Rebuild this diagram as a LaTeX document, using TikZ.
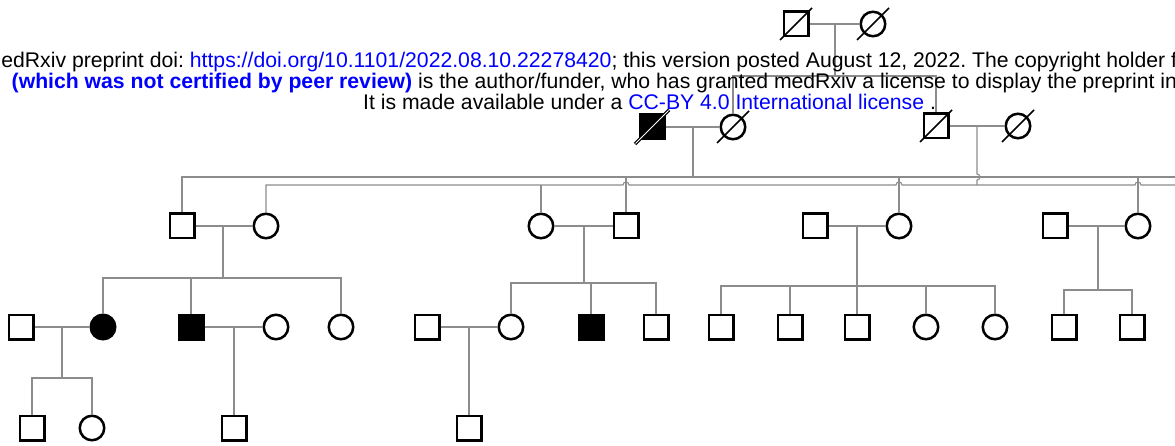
\documentclass[tikz,border=0pt]{standalone}
\usepackage{fontspec}
\setmainfont{Liberation Sans}
\usetikzlibrary{calc}
\definecolor{linkblue}{RGB}{0,0,255}
\definecolor{conngray}{RGB}{140,140,140}
\frenchspacing
\begin{document}
\begin{tikzpicture}[x=1pt,y=-1pt,
  sq/.style={draw=black, line width=2.5pt, rectangle, minimum size=24.5pt, inner sep=0pt, fill=white},
  ci/.style={draw=black, line width=2.5pt, circle, minimum size=24.5pt, inner sep=0pt, fill=white},
  aff/.style={fill=black},
  conn/.style={draw=conngray, line width=1.1pt},
  slash/.style={draw=black, line width=1.6pt},
  wslash/.style={draw=white, line width=1.0pt},
  txt/.style={anchor=base west, inner sep=0pt, font=\fontsize{21.2}{25}\selectfont}]
\useasboundingbox (0,0) rectangle (1175,446);
\clip (0,0) rectangle (1175,446);
% ---------- Generation I
\node[sq] (I1) at (796,24) {};
\node[ci] (I2) at (873,24) {};
% ---------- Generation II
\node[sq,aff] (II1) at (652,127) {};
\node[ci] (II2) at (733,127) {};
\node[sq] (II3) at (936,126) {};
\node[ci] (II4) at (1018,126) {};
% ---------- Generation III
\node[sq] (III1) at (182,226) {};
\node[ci] (III2) at (266,226) {};
\node[ci] (III3) at (541,226) {};
\node[sq] (III4) at (626,226) {};
\node[sq] (III5) at (815,226) {};
\node[ci] (III6) at (899,226) {};
\node[sq] (III7) at (1055,226) {};
\node[ci] (III8) at (1138,226) {};
% ---------- Generation IV
\node[sq] (IV1) at (21,327) {};
\node[ci,aff] (IV2) at (103,327) {};
\node[sq,aff] (IV3) at (191,327) {};
\node[ci] (IV4) at (276,327) {};
\node[ci] (IV5) at (341,327) {};
\node[sq] (IV6) at (427,327) {};
\node[ci] (IV7) at (511,327) {};
\node[sq,aff] (IV8) at (591,327) {};
\node[sq] (IV9) at (656,327) {};
\node[sq] (IV10) at (721,327) {};
\node[sq] (IV11) at (790,327) {};
\node[sq] (IV12) at (857,327) {};
\node[ci] (IV13) at (926,327) {};
\node[ci] (IV14) at (995,327) {};
\node[sq] (IV15) at (1064,327) {};
\node[sq] (IV16) at (1132,327) {};
% ---------- Generation V
\node[sq] (V1) at (32,428) {};
\node[ci] (V2) at (92,428) {};
\node[sq] (V3) at (234,428) {};
\node[sq] (V4) at (469,428) {};
% ---------- junction coordinates
\coordinate (mI) at (835,24);
\coordinate (sI) at (835,76);
\coordinate (mA) at (693,127);
\coordinate (sA) at (693,177);
\coordinate (mB) at (977,126);
\coordinate (sB) at (977,185);
\coordinate (eA) at (1175,177);
\coordinate (eB) at (1175,185);
\coordinate (m1) at (223,226);
\coordinate (s1) at (223,278);
\coordinate (m2) at (584,226);
\coordinate (s2) at (584,283);
\coordinate (m3) at (857,226);
\coordinate (s3) at (857,286);
\coordinate (m4) at (1098,226);
\coordinate (s4) at (1098,290);
\coordinate (m5) at (62,327);
\coordinate (s5) at (62,378);
\coordinate (m6) at (234,327);
\coordinate (m7) at (469,327);
% ---------- connectors
\begin{scope}[conn]
\draw (I1) -- (I2);
\draw (mI) -- (sI);
\draw (II2.north) -- (II2.north |- sI) -- (II3.north |- sI) -- (II3.north);
\draw (II1) -- (II2);
\draw (II3) -- (II4);
\draw (mA) -- (sA);
% line A (children of couple II1-II2)
\draw (III1.north) -- (III1.north |- sA) -- (eA);
\draw (III4.north) -- (III4.north |- sA);
\draw (III6.north) -- (III6.north |- sA);
\draw (III8.north) -- (III8.north |- sA);
% descent of couple II3-II4 with hop over line A
\draw (mB) -- (977,174) arc (-90:90:3) -- (sB);
% line B with hops
\draw (III2.north) -- (III2.north |- sB) -- (623,185) arc (180:360:3) -- (896,185) arc (180:360:3) -- (1135,185) arc (180:360:3) -- (eB);
\draw (III3.north) -- (III3.north |- sB);
% generation III couples
\draw (III1) -- (III2);
\draw (III3) -- (III4);
\draw (III5) -- (III6);
\draw (III7) -- (III8);
\draw (m1) -- (s1);
\draw (m2) -- (s2);
\draw (m3) -- (s3);
\draw (m4) -- (s4);
\draw (IV2.north) -- (IV2.north |- s1) -- (IV5.north |- s1) -- (IV5.north);
\draw (IV3.north) -- (IV3.north |- s1);
\draw (IV7.north) -- (IV7.north |- s2) -- (IV9.north |- s2) -- (IV9.north);
\draw (IV8.north) -- (IV8.north |- s2);
\draw (IV10.north) -- (IV10.north |- s3) -- (IV14.north |- s3) -- (IV14.north);
\draw (IV11.north) -- (IV11.north |- s3);
\draw (IV12.north) -- (IV12.north |- s3);
\draw (IV13.north) -- (IV13.north |- s3);
\draw (IV15.north) -- (IV15.north |- s4) -- (IV16.north |- s4) -- (IV16.north);
% generation IV couples
\draw (IV1) -- (IV2);
\draw (IV3) -- (IV4);
\draw (IV6) -- (IV7);
\draw (m5) -- (s5);
\draw (V1.north) -- (V1.north |- s5) -- (V2.north |- s5) -- (V2.north);
\draw (m6) -- (V3.north);
\draw (m7) -- (V4.north);
\end{scope}
% ---------- deceased slashes
\foreach \n in {I1,I2,II2,II3,II4} {
  \draw[slash] ($(\n)+(-16,16)$) -- ($(\n)+(16,-16)$);
}
\draw[draw=black, line width=3.4pt] ($(II1)+(-17,17)$) -- ($(II1)+(17,-17)$);
\draw[wslash] ($(II1)+(-16.5,16.5)$) -- ($(II1)+(16.5,-16.5)$);
% ---------- watermark text
\node[txt] (t1) at (-16.5,67.5) {medRxiv preprint doi: \textcolor{linkblue}{https://doi.org/10.1101/2022.08.10.22278420}; this version posted August 12, 2022. The copyright holder for this preprint};
\node[txt] (t2) at (11.5,89) {\textcolor{linkblue}{\bfseries (which was not certified by peer review)} is the author/funder, who has granted medRxiv a license to display the preprint in perpetuity.};
\node[txt] (t3) at (363,109.5) {It is made available under a \textcolor{linkblue}{CC-BY 4.0 International license} .};
\end{tikzpicture}
\end{document}
